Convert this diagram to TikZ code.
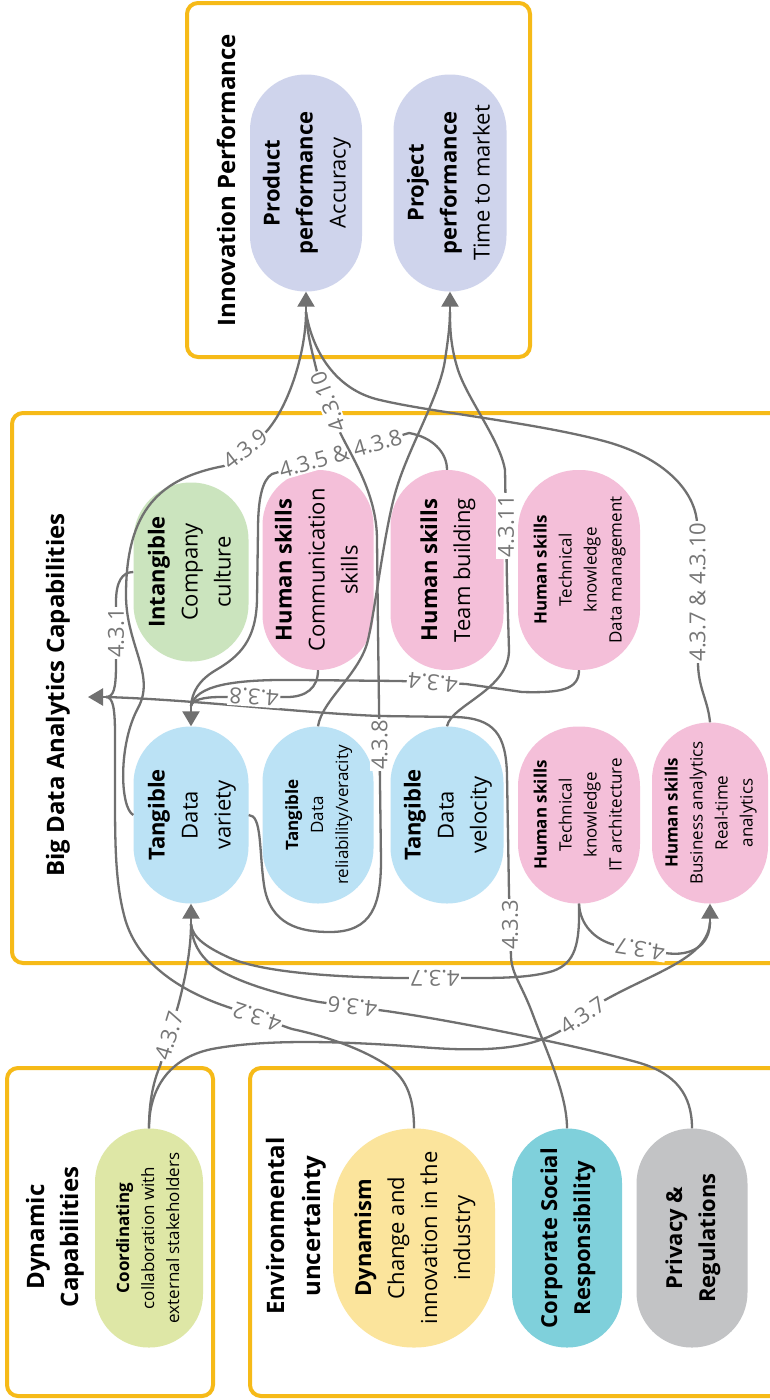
\documentclass[tikz,border=0pt]{standalone}
\usepackage{fontspec}
\setmainfont{Open Sans}
\usepackage{graphicx}
\usetikzlibrary{arrows.meta}

\definecolor{gold}{RGB}{246,186,24}
\definecolor{wiregray}{RGB}{112,112,112}
\definecolor{lblgray}{RGB}{118,118,118}
\definecolor{lav}{RGB}{207,212,236}
\definecolor{mint}{RGB}{203,228,190}
\definecolor{rose}{RGB}{244,191,217}
\definecolor{sky}{RGB}{187,226,245}
\definecolor{limeg}{RGB}{222,231,166}
\definecolor{butter}{RGB}{251,228,156}
\definecolor{tealc}{RGB}{127,208,219}
\definecolor{greyc}{RGB}{194,195,197}

% vertical (bottom-to-top) centred text block
\newcommand{\vtxt}[1]{\rotatebox{90}{\begin{tabular}{@{}c@{}}#1\end{tabular}}}

\tikzset{
  groupbox/.style={draw=gold, line width=4pt, rounded corners=11pt, inner sep=0pt},
  pill/.style n args={3}{rectangle, draw=none, inner sep=0pt,
    minimum width=#1, minimum height=#2, rounded corners=#3},
  txtL/.style={font=\fontsize{22}{33}\selectfont},
  txtS/.style={font=\fontsize{17}{25}\selectfont},
  ttl/.style={font=\fontsize{24}{34}\selectfont\bfseries, align=center, rotate=90},
  wire/.style={draw=wiregray, line width=2.3pt},
  arrowline/.style={draw=wiregray, line width=2.3pt, -{Triangle[width=17pt,length=15pt]}},
  lbl/.style={font=\fontsize{22}{24}\selectfont, text=lblgray, fill=white, inner sep=1.5pt},
}

\begin{document}
\begin{tikzpicture}[x=1pt,y=-1pt]
\useasboundingbox (0,0) rectangle (770,1400);
\fill[white] (0,0) rectangle (770,1400);

% group frames
\node[groupbox, minimum width=343pt, minimum height=354pt] (ipbox) at (358.5,180) {};
\node[groupbox, minimum width=790pt, minimum height=550pt] (bdabox) at (407,688) {};
\node[groupbox, minimum width=206pt, minimum height=328pt] (dcbox) at (110,1232) {};
\node[groupbox, minimum width=560pt, minimum height=328pt] (eubox) at (530,1232) {};

% group titles
\node[ttl] (ipttl) at (226,180) {Innovation Performance};
\node[ttl] (bdattl) at (58,695) {Big Data Analytics Capabilities};
\node[ttl] (dcttl) at (55,1237) {Dynamic\\Capabilities};
\node[ttl, font=\fontsize{24}{36}\selectfont\bfseries] (euttl) at (296,1226) {Environmental\\uncertainty};

% innovation performance
\node[pill={112pt}{217pt}{55.5pt}, fill=lav, txtL] (pp) at (306,183) {\vtxt{\textbf{Product}\\\textbf{performance}\\Accuracy}};
\node[pill={113pt}{217pt}{56pt}, fill=lav, txtL] (pj) at (450,183) {\vtxt{\textbf{Project}\\\textbf{performance}\\Time to market}};

% big data analytics capabilities, upper row
\node[pill={115pt}{179pt}{57pt}, fill=mint, txtL] (ic) at (191,572) {\vtxt{\textbf{Intangible}\\Company\\culture}};
\node[pill={111pt}{200pt}{55pt}, fill=rose, txtL] (hc) at (318,570) {\vtxt{\textbf{Human skills}\\Communication\\skills}};
\node[pill={113pt}{200pt}{56pt}, fill=rose, txtL] (ht) at (447,570) {\vtxt{\textbf{Human skills}\\Team building}};
\node[pill={122pt}{200pt}{60pt}, fill=rose, txtS] (hd) at (579,570) {\vtxt{\textbf{Human skills}\\Technical\\knowledge\\Data management}};

% big data analytics capabilities, lower row
\node[pill={115pt}{177pt}{57pt}, fill=sky, txtL] (tv) at (191,815) {\vtxt{\textbf{Tangible}\\Data\\variety}};
\node[pill={111pt}{177pt}{55pt}, fill=sky, txtS] (tr) at (318,815) {\vtxt{\textbf{Tangible}\\Data\\reliability/veracity}};
\node[pill={113pt}{177pt}{56pt}, fill=sky, txtL] (tl) at (447,815) {\vtxt{\textbf{Tangible}\\Data\\velocity}};
\node[pill={122pt}{177pt}{60pt}, fill=rose, txtS] (hi) at (579,815) {\vtxt{\textbf{Human skills}\\Technical\\knowledge\\IT architecture}};
\node[pill={116pt}{181pt}{57.5pt}, fill=rose, txtS] (hb) at (710,813) {\vtxt{\textbf{Human skills}\\Business analytics\\Real-time\\analytics}};

% dynamic capabilities and environment
\node[pill={108pt}{219pt}{53.5pt}, fill=limeg, txtS] (dc) at (149,1238) {\vtxt{\textbf{Coordinating}\\collaboration with\\external stakeholders}};
\node[pill={162pt}{219pt}{80pt}, fill=butter, txtL] (dy) at (414,1238) {\vtxt{\textbf{Dynamism}\\Change and\\innovation in the\\industry}};
\node[pill={110pt}{219pt}{54.5pt}, fill=tealc, txtL] (cs) at (567,1238) {\vtxt{\textbf{Corporate Social}\\\textbf{Responsibility}}};
\node[pill={111pt}{219pt}{55pt}, fill=greyc, txtL] (pr) at (692,1238) {\vtxt{\textbf{Privacy \&}\\\textbf{Regulations}}};

% points where bundled connectors meet their arrowhead
\coordinate (ppIn) at (306,312);
\coordinate (pjIn) at (450,312);
\coordinate (tvTop) at (191,706);
\coordinate (tvBot) at (191,924);
\coordinate (hbBot) at (710,922);
\coordinate (bdaStub) at (106,697);
\coordinate (bdaTip) at (88,697);

% into the capabilities group
\draw[wire] (ic.west) .. controls (122,572) and (116,582) .. (116,602)
  -- node[lbl,rotate=90]{4.3.1} (116,664) .. controls (116,688) and (114,697) .. (bdaStub);
\draw[wire] (dy.north) .. controls (414,1095) and (405,1076) .. (385,1064)
  .. controls (360,1048) and (325,1036) .. (292,1029)
  -- node[lbl,rotate=162]{4.3.2} (222,1005)
  .. controls (175,988) and (135,960) .. (124,915)
  .. controls (115,880) and (115,840) .. (115,790) -- (115,735)
  .. controls (115,708) and (113,697) .. (bdaStub);
\draw[wire] (cs.north) .. controls (567,1095) and (548,1055) .. (533,1015)
  .. controls (522,985) and (512,975) .. (511,957)
  -- node[lbl,rotate=90]{4.3.3} (509,893) -- (507,775)
  .. controls (506,735) and (495,718) .. (455,717) -- (380,716)
  .. controls (300,713) and (200,700) .. (bdaStub);
\draw[arrowline] (bdaStub) -- (bdaTip);

% into data variety from above
\draw[wire] (hd.south) .. controls (579,690) and (560,693) .. (522,692) -- (466,684)
  -- node[lbl,rotate=174]{4.3.4} (400,681) -- (300,680)
  .. controls (230,679) and (196,686) .. (tvTop);
\draw[wire] (hc.south) .. controls (318,688) and (306,697) .. (287,697)
  -- node[lbl,rotate=176]{4.3.8} (221,697) .. controls (203,697) and (192,700) .. (tvTop);
\draw[wire] (ht.north) .. controls (447,452) and (432,437) .. (409,433)
  -- node[lbl,rotate=16]{4.3.5 \& 4.3.8} (272,474)
  .. controls (262,480) and (258,500) .. (258,530) -- (257,600)
  .. controls (256,640) and (240,656) .. (216,670)
  .. controls (199,680) and (192,692) .. (tvTop);
\draw[arrowline] (tvTop) -- (tv.north);

% into project performance
\draw[wire] (tr.north) .. controls (322,700) and (360,674) .. (368,640)
  .. controls (376,605) and (385,525) .. (397,487)
  .. controls (410,445) and (440,395) .. (445,360)
  .. controls (448,340) and (450,325) .. (pjIn);
\draw[wire] (tl.north) .. controls (451,705) and (509,690) .. (509,650) -- (507,582)
  -- node[lbl,rotate=90]{4.3.11} (505,470)
  .. controls (500,440) and (468,400) .. (458,370)
  .. controls (450,345) and (450,325) .. (pjIn);
\draw[arrowline] (pjIn) -- (pj.south);

% into product performance
\draw[wire] (tv.west) .. controls (120,808) and (118,745) .. (138,708)
  .. controls (156,675) and (126,645) .. (126,595)
  .. controls (126,510) and (160,478) .. (224,466)
  -- node[lbl,rotate=38]{4.3.9} (266,432) .. controls (290,405) and (306,350) .. (ppIn);
\draw[wire] (hb.north) .. controls (708,700) and (698,688) .. (698,662)
  -- node[lbl,rotate=90]{4.3.7 \& 4.3.10} (697,522)
  .. controls (694,488) and (660,455) .. (600,440)
  .. controls (530,422) and (430,412) .. (380,400)
  .. controls (335,390) and (312,350) .. (ppIn);
\draw[wire] (tv.east) .. controls (262,815) and (259,850) .. (264,885)
  .. controls (270,925) and (300,932) .. (330,932)
  .. controls (372,932) and (381,905) .. (381,860)
  -- node[lbl,rotate=90]{4.3.8} (378,630) -- (377,540)
  .. controls (377,492) and (350,455) .. (338,428)
  -- node[lbl,rotate=111]{4.3.10} (318,376)
  .. controls (313,355) and (307,335) .. (ppIn);
\draw[arrowline] (ppIn) -- (pp.south);

% into data variety from below
\draw[wire] (dc.north) .. controls (149,1100) and (154,1080) .. (160,1066)
  -- node[lbl,rotate=73]{4.3.7} (178,1006) .. controls (185,980) and (191,950) .. (tvBot);
\draw[wire] (hi.south) .. controls (580,945) and (575,963) .. (553,971)
  .. controls (530,978) and (500,978) .. (470,978)
  -- node[lbl,rotate=180]{4.3.7} (400,978)
  .. controls (330,977) and (262,972) .. (230,958)
  .. controls (208,948) and (192,938) .. (tvBot);
\draw[wire] (pr.north) .. controls (692,1095) and (676,1074) .. (640,1063)
  .. controls (580,1046) and (450,1020) .. (386,1011)
  -- node[lbl,rotate=174]{4.3.6} (319,1002)
  .. controls (280,995) and (236,982) .. (213,966)
  .. controls (199,955) and (192,942) .. (tvBot);
\draw[arrowline] (tvBot) -- (tv.south);

% into business analytics
\draw[wire] (dc.north) .. controls (149,1090) and (168,1058) .. (212,1049)
  .. controls (265,1039) and (340,1041) .. (420,1047)
  .. controls (480,1052) and (528,1050) .. (560,1031)
  -- node[lbl,rotate=34]{4.3.7} (605,1000)
  .. controls (655,972) and (708,958) .. (hbBot);
\draw[wire] (hi.south) .. controls (580,925) and (595,940) .. (615,945)
  -- node[lbl,rotate=171]{4.3.7} (665,953)
  .. controls (692,957) and (710,945) .. (hbBot);
\draw[arrowline] (hbBot) -- (hb.south);
\end{tikzpicture}
\end{document}
